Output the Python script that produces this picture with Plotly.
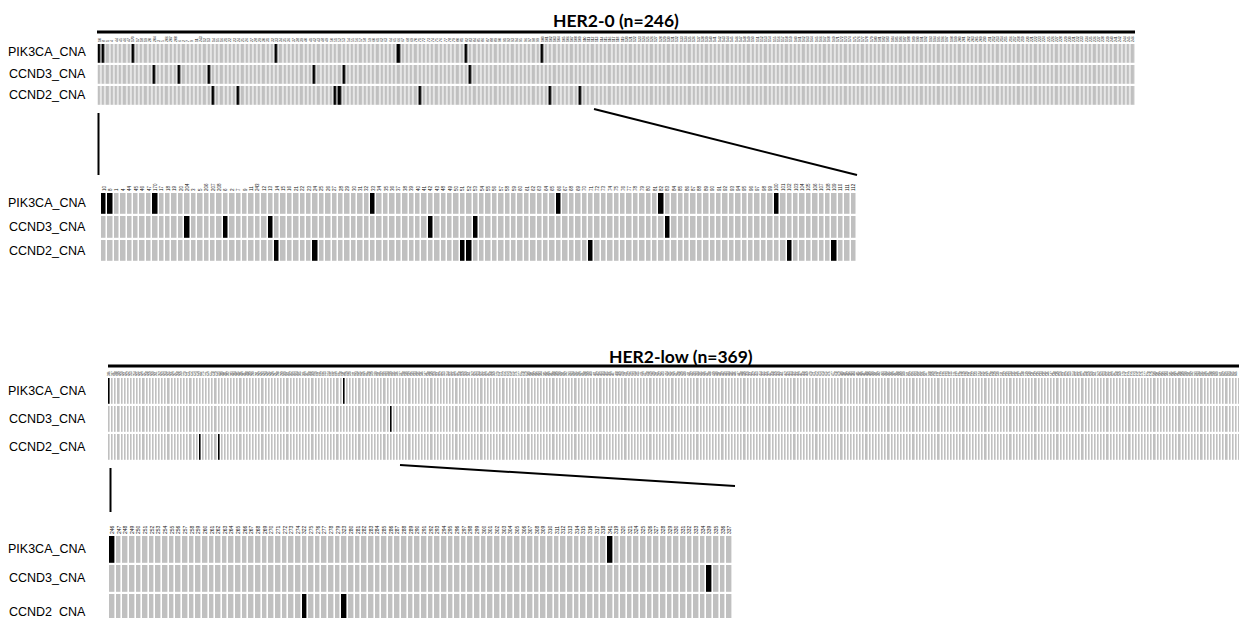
import plotly.graph_objects as go

W, H = 1239, 618

# ---------------- data ----------------
genes = ["PIK3CA_CNA", "CCND3_CNA", "CCND2_CNA"]

her2_0_title = "HER2-0 (n=246)"
her2_0_n = 246
her2_0_zoom_n = 118
# column indices (sample order) with a CNA event (black cell)
her2_0_pik3ca = [0, 1, 8, 42, 71, 87, 105]
her2_0_ccnd3 = [13, 19, 26, 51, 58, 88]
her2_0_ccnd2 = [27, 33, 56, 57, 76, 107, 114]

her2_low_title = "HER2-low (n=369)"
her2_low_n = 369
her2_low_zoom_n = 94
her2_low_pik3ca = [0, 75]
her2_low_ccnd3 = [90]
her2_low_ccnd2 = [29, 35]

# sample-ID tick labels (approximate; printed very small in the original)
her2_0_zoom_labels = ["10", "8", "1", "4", "44", "45", "46", "47", "170", "17",
                      "18", "19", "20", "204", "3", "5", "206", "207", "208", "6",
                      "2", "7", "9", "11", "243", "12", "13", "14", "15", "16",
                      "21", "22", "23", "24", "25", "26", "27", "28", "29", "30",
                      "31", "32", "33", "34", "35", "36", "37", "38", "39", "40",
                      "41", "42", "43", "48", "49", "50", "51", "52", "53", "54",
                      "55", "56", "57", "58", "59", "60", "61", "62", "63", "64",
                      "65", "66", "67", "68", "69", "70", "71", "72", "73", "74",
                      "75", "76", "77", "78", "79", "80", "81", "82", "83", "84",
                      "85", "86", "87", "88", "89", "90", "91", "92", "93", "94",
                      "95", "96", "97", "98", "99", "100", "101", "102", "103", "104",
                      "105", "106", "107", "108", "109", "110", "111", "112"]
her2_0_rest_labels = [str(i) for i in range(1, 247) if str(i) not in her2_0_zoom_labels]
her2_0_labels = her2_0_zoom_labels + her2_0_rest_labels

her2_low_zoom_labels = ([str(i) for i in range(246, 275)] + ["322"] +
                        [str(i) for i in range(275, 280)] + ["323"] +
                        [str(i) for i in range(280, 319)] + ["341"] +
                        ["319", "320", "321"] + [str(i) for i in range(324, 335)] +
                        ["339", "335", "336", "337"])
her2_low_rest_labels = [str(i) for i in range(247, 616) if str(i) not in her2_low_zoom_labels]
her2_low_labels = (her2_low_zoom_labels + her2_low_rest_labels)[:her2_low_n]

GRAY = "#c0c0c0"
BLACK = "#000000"


def matrix(n, rows):
    return [[1 if c in r else 0 for c in range(n)] for r in rows]


def px_x(p):
    return p / W


def px_y(p):
    return 1 - p / H


fig = go.Figure()

panels = [
    dict(n=her2_0_n, rows=[her2_0_pik3ca, her2_0_ccnd3, her2_0_ccnd2], labels=her2_0_labels,
         x0=97.5, x1=1135, yt=43, yb=106, xgap=1.2, fs=3.4, xr=None, yr=[2.5, -0.5]),
    dict(n=her2_0_zoom_n, rows=[her2_0_pik3ca, her2_0_ccnd3, her2_0_ccnd2], labels=her2_0_zoom_labels,
         x0=101, x1=857, yt=192, yb=262, xgap=1.5, fs=4.5, xr=None, yr=[2.5, -0.5]),
    dict(n=her2_low_n, rows=[her2_low_pik3ca, her2_low_ccnd3, her2_low_ccnd2], labels=her2_low_labels,
         x0=108, x1=1239, yt=377, yb=461, xgap=1.4, fs=2.8,
         xr=[-0.5, (1239 - 108) / 3.13 - 0.5], yr=[2.5, -0.5]),
    dict(n=her2_low_zoom_n, rows=[her2_low_pik3ca, her2_low_ccnd3, her2_low_ccnd2], labels=her2_low_zoom_labels,
         x0=109, x1=733, yt=535, yb=618, xgap=1.6, fs=5, xr=None,
         yr=[-0.5 + 83 / 29.0, -0.5]),
]

for i, p in enumerate(panels):
    ax = "" if i == 0 else str(i + 1)
    rows = [[g for g in r if g < p["n"]] for r in p["rows"]]
    z = matrix(p["n"], rows)
    fig.add_trace(go.Heatmap(
        z=z, x=list(range(p["n"])), y=[0, 1, 2],
        colorscale=[[0, GRAY], [1, BLACK]], zmin=0, zmax=1, showscale=False,
        xgap=p["xgap"], ygap=2.2, hoverinfo="skip",
        xaxis="x" + ax, yaxis="y" + ax))
    xr = p["xr"] if p["xr"] else [-0.5, p["n"] - 0.5]
    fig.layout["xaxis" + ax] = dict(
        domain=[px_x(p["x0"]), px_x(p["x1"])], range=xr, anchor="y" + ax,
        side="top", tickmode="array", tickvals=list(range(p["n"])),
        ticktext=p["labels"], tickangle=-90, ticklen=0,
        tickfont=dict(size=p["fs"], family="Liberation Sans", color="#111111"),
        showgrid=False, zeroline=False, showline=False, fixedrange=True)
    fig.layout["yaxis" + ax] = dict(
        domain=[px_y(p["yb"]), px_y(p["yt"])], range=p["yr"], anchor="x" + ax,
        showticklabels=False, showgrid=False, zeroline=False, ticks="", fixedrange=True)

# row labels
row_label_y = [
    [52, 74, 95],
    [203, 227, 251],
    [391, 419, 447],
    [549, 578, 612],
]
for ys in row_label_y:
    for g, y in zip(genes, ys):
        fig.add_annotation(x=px_x(88), y=px_y(y), xref="paper", yref="paper",
                           text=g, showarrow=False, xanchor="right", yanchor="middle",
                           font=dict(family="Liberation Sans", size=12.5, color="#000000"))

# titles
fig.add_annotation(x=px_x(616), y=px_y(21), xref="paper", yref="paper", text="<b>" + her2_0_title + "</b>",
                   showarrow=False, xanchor="center", yanchor="middle",
                   font=dict(family="Lato", size=17.5, color="#000000"))
fig.add_annotation(x=px_x(681), y=px_y(356), xref="paper", yref="paper", text="<b>" + her2_low_title + "</b>",
                   showarrow=False, xanchor="center", yanchor="middle",
                   font=dict(family="Lato", size=17.5, color="#000000"))

# decorations: header rules, zoom connector lines
lines = [
    (97, 32, 1135, 32, 3),
    (108, 366, 1239, 366, 3),
    (98.5, 113, 98.5, 175, 2),
    (594, 109, 857, 175, 2),
    (110.5, 468, 110.5, 512, 2),
    (400, 465, 735, 486, 2),
]
for x0, y0, x1, y1, w in lines:
    fig.add_shape(type="line", xref="paper", yref="paper",
                  x0=px_x(x0), y0=px_y(y0), x1=px_x(x1), y1=px_y(y1),
                  line=dict(color="#000000", width=w))

fig.update_layout(width=W, height=H, margin=dict(l=0, r=0, t=0, b=0),
                  paper_bgcolor="white", plot_bgcolor="white", showlegend=False)

fig.write_html("out.html", config={"displayModeBar": False},
               post_script="document.body.style.margin='0';document.body.style.overflow='hidden';")
